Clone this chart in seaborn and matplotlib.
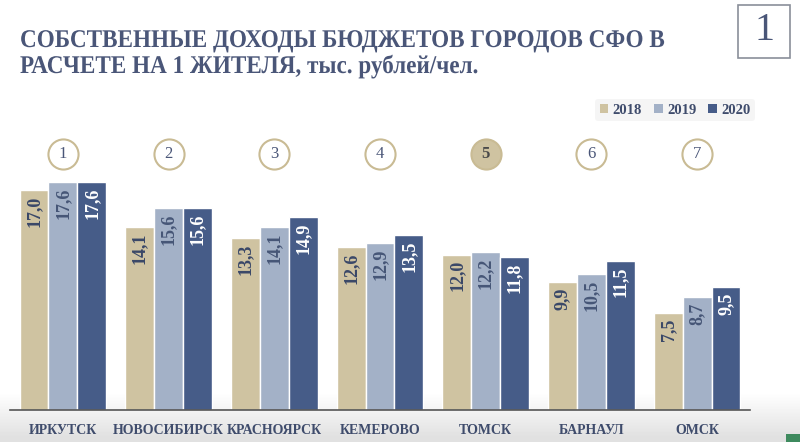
import numpy as np
import pandas as pd
import matplotlib
matplotlib.use('Agg')
import matplotlib.pyplot as plt
import seaborn as sns
from matplotlib.patches import Rectangle, Patch, PathPatch
from matplotlib.textpath import TextPath
from matplotlib.font_manager import FontProperties
from matplotlib.transforms import Affine2D

# chart data
cities = ['ИРКУТСК', 'НОВОСИБИРСК', 'КРАСНОЯРСК', 'КЕМЕРОВО', 'ТОМСК', 'БАРНАУЛ', 'ОМСК']
ranks = ['1', '2', '3', '4', '5', '6', '7']
years = ['2018', '2019', '2020']
v2018 = [17.0, 14.1, 13.3, 12.6, 12.0, 9.9, 7.5]
v2019 = [17.6, 15.6, 14.1, 12.9, 12.2, 10.5, 8.7]
v2020 = [17.6, 15.6, 14.9, 13.5, 11.8, 11.5, 9.5]
highlight = '5'
title_lines = ['СОБСТВЕННЫЕ ДОХОДЫ БЮДЖЕТОВ ГОРОДОВ СФО В',
               'РАСЧЕТЕ НА 1 ЖИТЕЛЯ, тыс. рублей/чел.']

colors = ['#CFC3A1', '#A3B1C7', '#465C88']
label_colors = ['#3A4868', '#465677', 'white']
navy = '#4A5678'

df = pd.DataFrame({
    'city': cities * 3,
    'year': sum([[y] * len(cities) for y in years], []),
    'value': v2018 + v2019 + v2020,
})

sns.set_style('white')
plt.rcParams['font.family'] = ['Liberation Serif', 'DejaVu Serif']

fig = plt.figure(figsize=(8, 4.42), dpi=100)

# grey band at the bottom of the slide
bg = fig.add_axes([0, 0, 1, 1], zorder=-5)
bg.set_axis_off()
ys = np.arange(442)
shade = 1.0 - np.clip((ys - 392) / 45.0, 0, 1) * 0.12
grad = shade[:, None]
bg.imshow(grad, cmap='gray', vmin=0, vmax=1, aspect='auto',
          extent=[0, 800, 442, 0], origin='upper')
bg.set_xlim(0, 800)
bg.set_ylim(442, 0)
bg.add_patch(Rectangle((786, 434), 14, 8, facecolor='#3E8A5E', edgecolor='none'))

ax = fig.add_axes([0.0125, 32 / 442, 0.925, 272 / 442])
ax.patch.set_alpha(0)
sns.barplot(data=df, x='city', y='value', hue='year', palette=colors,
            width=0.82, gap=0, saturation=1, ax=ax, legend=False)
ax.set_xlim(-0.5, 6.5)
ax.set_ylim(0, 21)
ax.set_xlabel('')
ax.set_ylabel('')
ax.set_yticks([])
for s in ['top', 'right', 'left']:
    ax.spines[s].set_visible(False)
ax.spines['bottom'].set_color('#555555')
ax.spines['bottom'].set_linewidth(1.2)
ax.tick_params(axis='x', length=0, pad=10)
for t in ax.get_xticklabels():
    t.set_fontsize(10)
    t.set_fontweight('bold')
    t.set_color('#3F4C6C')

# value labels inside the bars
for i, cont in enumerate(ax.containers):
    for bar in cont:
        h = bar.get_height()
        ax.annotate(f'{h:.1f}'.replace('.', ','),
                    (bar.get_x() + bar.get_width() / 2, h),
                    xytext=(0, -4), textcoords='offset points',
                    rotation=90, ha='center', va='top',
                    fontsize=13, fontweight='bold', color=label_colors[i])

# rank circles
xs = np.arange(len(cities))
for x, r in zip(xs, ranks):
    fc = colors[0] if r == highlight else 'white'
    ax.scatter([x], [19.8], s=470, facecolor=fc, edgecolor='#C9BB94',
               linewidth=1.5, clip_on=False, zorder=5)
    ax.text(x, 19.8, r, ha='center', va='center', fontsize=12,
            color=navy if r != highlight else '#4A4A4A',
            fontweight='bold' if r == highlight else 'normal', zorder=6)

# title, drawn as condensed text paths (pixel coords, y from top)
title_fp = FontProperties(family='Liberation Serif', weight='bold')
paths = [TextPath((0, 0), s, size=25.5, prop=title_fp) for s in title_lines]
sx = 643 / paths[0].get_extents().width
for tp, base in zip(paths, [47, 73]):
    tr = Affine2D().scale(sx, 1).translate(20, 442 - base)
    fig.patches.append(PathPatch(tp, transform=tr, facecolor=navy,
                                 edgecolor='none'))

# slide number box
fig.patches.append(Rectangle((738 / 800, 1 - 58 / 442), 52 / 800, 53 / 442,
                             transform=fig.transFigure, facecolor='white',
                             edgecolor='#8A8F99', linewidth=1.2))
fig.text(764 / 800, 1 - 31 / 442, '1', fontsize=29, color=navy,
         ha='center', va='center')

# legend
handles = [Patch(facecolor=c, edgecolor='none') for c in colors]
leg = fig.legend(handles, years, loc='center', bbox_to_anchor=(675 / 800, 1 - 110 / 442),
                 ncol=3, frameon=True, handlelength=0.6, handleheight=0.6,
                 handletextpad=0.3, columnspacing=0.8, borderpad=0.3,
                 prop={'size': 10.5, 'weight': 'bold'})
leg.get_frame().set_facecolor('#F3F3F3')
leg.get_frame().set_edgecolor('none')
for t in leg.get_texts():
    t.set_color('#3F4C6C')

fig.savefig('out.png', dpi=100)
